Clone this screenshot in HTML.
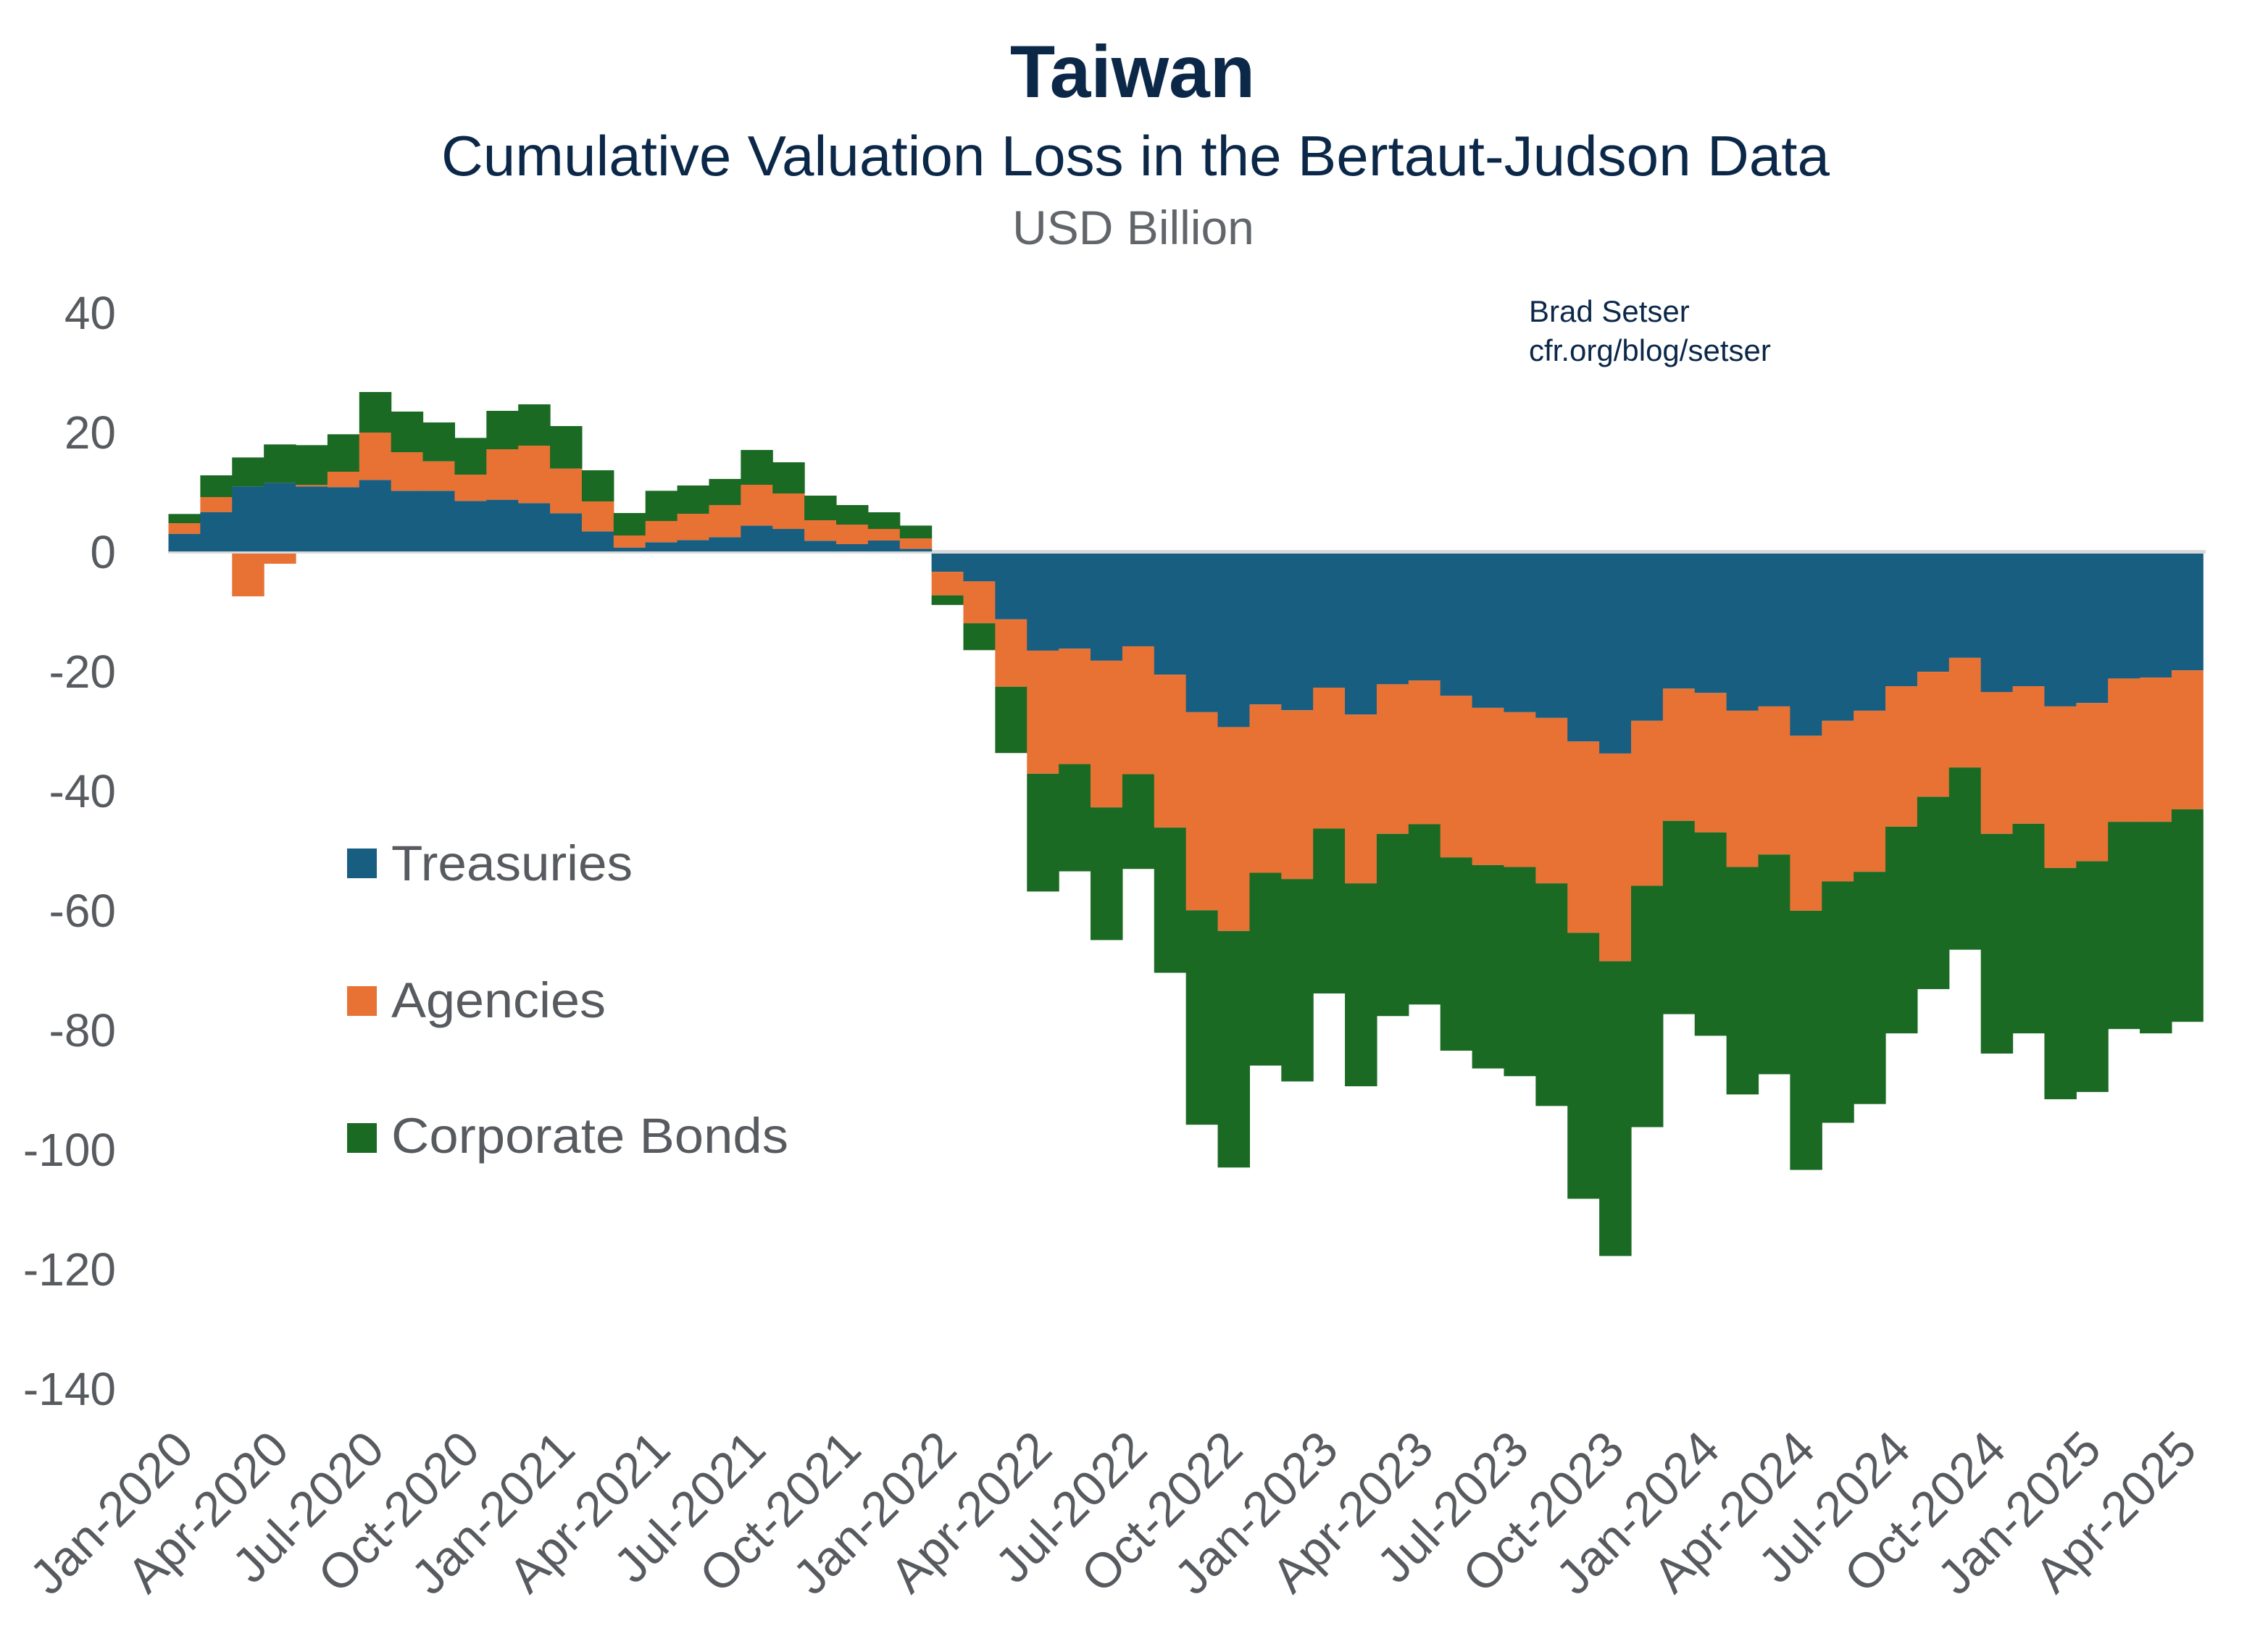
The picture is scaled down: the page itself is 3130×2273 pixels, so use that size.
<!DOCTYPE html>
<html><head><meta charset="utf-8"><style>
html,body{margin:0;padding:0;background:#fff;}
svg{display:block;}
text{font-family:"Liberation Sans",sans-serif;}
</style></head><body>
<svg id="s" width="3130" height="2273" viewBox="0 0 3130 2273" xmlns="http://www.w3.org/2000/svg">
<rect width="3130" height="2273" fill="#fff"/>
<text x="1563" y="134" font-size="102" font-weight="bold" fill="#0c2849" text-anchor="middle">Taiwan</text>
<text x="1567" y="242" font-size="78" fill="#0c2849" text-anchor="middle" textLength="1916" lengthAdjust="spacingAndGlyphs">Cumulative Valuation Loss in the Bertaut-Judson Data</text>
<text x="1564" y="337" font-size="66" fill="#62666b" text-anchor="middle">USD Billion</text>
<text x="2110" y="444" font-size="42" fill="#0c2849">Brad Setser</text>
<text x="2110" y="498" font-size="42" fill="#0c2849">cfr.org/blog/setser</text>
<rect x="232" y="759" width="2812" height="5" fill="#d9d9d9"/>
<g id="bars"></g>
<g id="yl" font-size="64" fill="#575b60" text-anchor="end"></g>
<g id="xl" font-size="68" fill="#575b60" text-anchor="end"></g>
<rect x="479" y="1171" width="41" height="41" fill="#175e81"/>
<rect x="479" y="1361" width="41" height="41" fill="#e87234"/>
<rect x="479" y="1550" width="41" height="41" fill="#1b6a24"/>
<text x="540" y="1215" font-size="69" fill="#575b60" textLength="333" lengthAdjust="spacingAndGlyphs">Treasuries</text>
<text x="540" y="1404" font-size="69" fill="#575b60" textLength="296" lengthAdjust="spacingAndGlyphs">Agencies</text>
<text x="540" y="1591" font-size="69" fill="#575b60" textLength="548" lengthAdjust="spacingAndGlyphs">Corporate Bonds</text>
</svg>
<script>
var NS="http://www.w3.org/2000/svg";
var B="#175e81",O="#e87234",G="#1b6a24";
var Z=761,x0=232.5,w=43.88;
var pos=[[710,666,628],[620,558,468],[514,null,394],[499,null,340],[514,508,343],[517,453,298],[487,291,123],[532,372,204],[532,410,249],[574,465,313],[569,360,201],[583,345,174],[625,440,264],[700,576,447],[767,717,624],[745,657,532],[736,627,510],[724,591,483],[676,507,363],[690,543,414],[739,654,552],[753,672,591],[738,690,621],[772,729,676]];
var negA={2:969,3:834};
var neg=[[74,123,143],[94,181,237],[173,313,451],[238,494,739],[234,474,697],[259,564,840],[229,495,692],[288,606,908],[366,778,1224],[397,821,1313],[350,700,1101],[362,713,1134],[315,608,951],[371,722,1144],[308,619,998],[300,599,974],[332,668,1070],[357,684,1107],[366,688,1123],[378,722,1185],[427,825,1378],[452,884,1497],[384,727,1229],[317,592,994],[326,616,1039],[363,688,1161],[354,662,1119],[415,779,1318],[384,718,1220],[363,698,1181],[312,604,1034],[282,542,942],[253,481,860],[324,619,1076],[312,598,1034],[354,690,1171],[347,676,1156],[296,594,1025],[294,594,1034],[279,568,1010]];
var g=document.getElementById('bars');
function r(x,y1,y2,c,last){var a=Math.min(y1,y2),b=Math.max(y1,y2);if(b-a<0.1)return;var e=document.createElementNS(NS,'rect');e.setAttribute('x',x.toFixed(2));e.setAttribute('y',a.toFixed(2));e.setAttribute('width',(last?w:w+0.6).toFixed(2));e.setAttribute('height',(b-a).toFixed(2));e.setAttribute('fill',c);g.appendChild(e);}
pos.forEach(function(p,i){var x=x0+i*w;var t=500+p[0]/3,c=500+p[2]/3;r(x,Z,t,B);
 if(p[1]===null){r(x,t,c,G);r(x,Z+3,500+negA[i]/3,O);}else{var a=500+p[1]/3;r(x,t,a,O);r(x,a,c,G);}});
neg.forEach(function(p,j){var i=24+j,x=x0+i*w,l=(i==63);var t=740+p[0]/1.507,a=740+p[1]/1.507,c=740+p[2]/1.507;r(x,Z+3,t,B,l);r(x,t,a,O,l);r(x,a,c,G,l);});
var yl=document.getElementById('yl');
for(var v=40;v>=-140;v-=20){var t=document.createElementNS(NS,'text');t.setAttribute('x',160);t.setAttribute('y',(Z-v*8.25+23).toFixed(1));t.textContent=v;yl.appendChild(t);}
var mn=['Jan','Apr','Jul','Oct'],xl=document.getElementById('xl');
for(var k=0;k<22;k++){var i=k*3;var yr=2020+Math.floor(i/12);var cx=x0+i*w+w/2+16,cy=2004;var t=document.createElementNS(NS,'text');t.setAttribute('x',cx.toFixed(1));t.setAttribute('y',cy);t.setAttribute('transform','rotate(-45 '+cx.toFixed(1)+' '+cy+')');t.textContent=mn[k%4]+'-'+yr;xl.appendChild(t);}
</script>
</body></html>
